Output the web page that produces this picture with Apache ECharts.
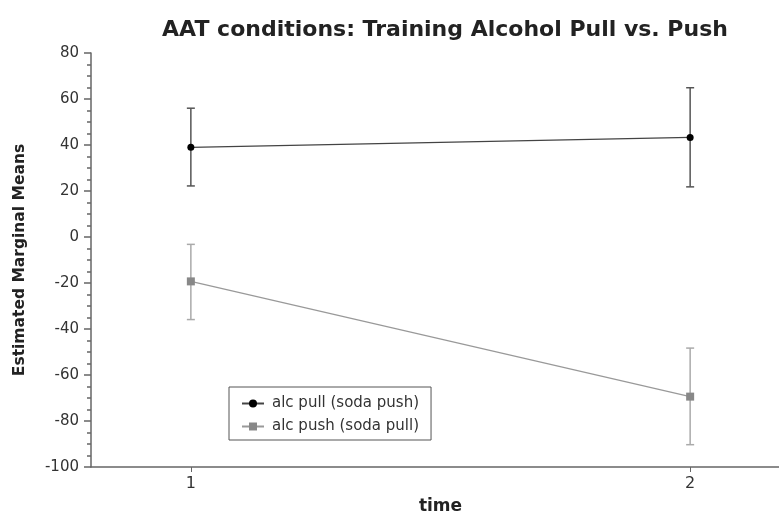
<!DOCTYPE html>
<html>
<head>
<meta charset="utf-8">
<script src="https://cdn.jsdelivr.net/npm/echarts@6/dist/echarts.min.js"></script>
<style>
  html, body { margin: 0; padding: 0; background: #fff; }
  #chart { width: 779px; height: 515px; }
</style>
</head>
<body>
<div id="chart"></div>
<script>
// time points
const times = [1, 2]

// alc pull (soda push)
const pullMeans = [39.0, 43.3]
const pullLow = [22.2, 21.8]
const pullHigh = [56.0, 64.9]

// alc push (soda pull)
const pushMeans = [-19.3, -69.4]
const pushLow = [-35.9, -90.3]
const pushHigh = [-3.2, -48.3]

const xTicks = [1, 2]

const font = 'DejaVu Sans'

const chart = echarts.init(document.getElementById('chart'))

// 误差线
const errorBars = (low, high, color, id) => ({
  id: id,
  type: 'custom',
  z: 1,
  data: times.map((t, i) => [t, low[i], high[i]]),
  renderItem: (params, api) => {
    const lo = api.coord([api.value(0), api.value(1)])
    const hi = api.coord([api.value(0), api.value(2)])
    const half = 4
    const style = {stroke: color, lineWidth: 1.5}
    return {
      type: 'group',
      children: [
        {type: 'line', shape: {x1: lo[0], y1: lo[1], x2: hi[0], y2: hi[1]}, style},
        {type: 'line', shape: {x1: lo[0] - half, y1: lo[1], x2: lo[0] + half, y2: lo[1]}, style},
        {type: 'line', shape: {x1: hi[0] - half, y1: hi[1], x2: hi[0] + half, y2: hi[1]}, style}
      ]
    }
  },
  encode: {x: 0, y: [1, 2]},
  silent: true
})

const option = {
  animation: false,
  title: {
    text: 'AAT conditions: Training Alcohol Pull vs. Push',
    left: 440,
    top: 14,
    textAlign: 'center',
    textStyle: {fontFamily: font, fontSize: 22, fontWeight: 'bold', color: '#222'}
  },
  legend: {
    orient: 'vertical',
    left: 229,
    top: 387,
    padding: [9, 12, 6, 12],
    itemWidth: 22,
    itemHeight: 10,
    itemGap: 8,
    borderColor: '#555',
    borderWidth: 1,
    data: ['alc pull (soda push)', 'alc push (soda pull)'],
    textStyle: {fontFamily: font, fontSize: 15, color: '#333', padding: [0, 0, 0, 3]}
  },
  grid: {left: 91, top: 53, width: 699, bottom: 48, outerBoundsMode: 'none'},
  xAxis: {
    type: 'value',
    min: 0.8,
    max: 2.2,
    name: 'time',
    nameLocation: 'middle',
    nameGap: 31,
    nameTextStyle: {fontFamily: font, fontSize: 17, fontWeight: 'bold', color: '#222'},
    axisLine: {onZero: false, lineStyle: {color: '#666', width: 1.5}},
    axisTick: {customValues: xTicks, length: 5, lineStyle: {color: '#666'}},
    axisLabel: {customValues: xTicks, fontFamily: font, fontSize: 16, color: '#333', margin: 9},
    splitLine: {show: false}
  },
  yAxis: {
    type: 'value',
    min: -100,
    max: 80,
    interval: 20,
    name: 'Estimated Marginal Means',
    nameLocation: 'middle',
    nameGap: 63,
    nameTextStyle: {fontFamily: font, fontSize: 15.5, fontWeight: 'bold', color: '#222'},
    axisLine: {show: true, onZero: false, lineStyle: {color: '#666', width: 1.5}},
    axisTick: {show: true, length: 7, lineStyle: {color: '#666', width: 1.5}},
    minorTick: {show: true, splitNumber: 4, length: 4, lineStyle: {color: '#666', width: 1.5}},
    axisLabel: {fontFamily: font, fontSize: 15, color: '#333', margin: 12},
    splitLine: {show: false}
  },
  series: [
    errorBars(pullLow, pullHigh, '#555', 'pullErr'),
    errorBars(pushLow, pushHigh, '#aaa', 'pushErr'),
    {
      name: 'alc pull (soda push)',
      type: 'line',
      z: 3,
      data: times.map((t, i) => [t, pullMeans[i]]),
      symbol: 'circle',
      symbolSize: 7,
      lineStyle: {color: '#444', width: 1.2},
      itemStyle: {color: '#000'}
    },
    {
      name: 'alc push (soda pull)',
      type: 'line',
      z: 3,
      data: times.map((t, i) => [t, pushMeans[i]]),
      symbol: 'rect',
      symbolSize: 8,
      lineStyle: {color: '#999', width: 1.2},
      itemStyle: {color: '#888'}
    }
  ]
}

chart.setOption(option)
</script>
</body>
</html>
